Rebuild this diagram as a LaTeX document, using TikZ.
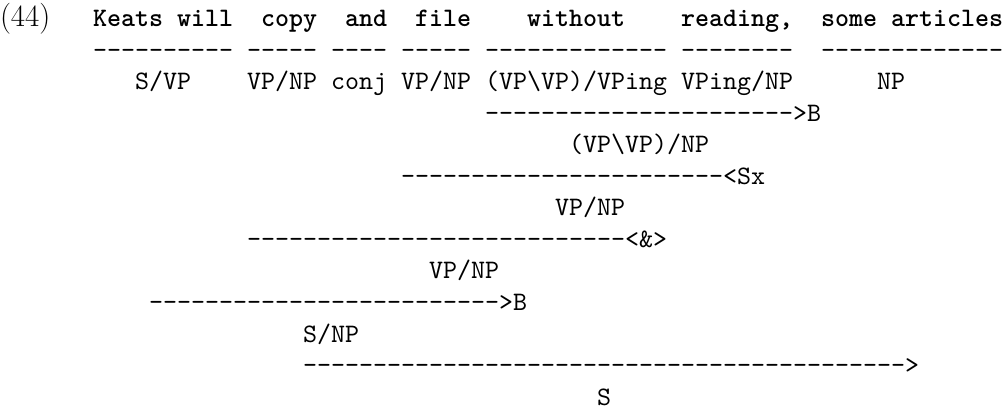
\documentclass[tikz,border=0pt]{standalone}
\usepackage{fontspec}
\setmonofont{lmmono10-regular.otf}[BoldFont=lmmonolt10-bold.otf]
\begin{document}
\begin{tikzpicture}[x=1pt,y=-1pt,
  every node/.style={inner sep=0pt,outer sep=0pt,anchor=base west},
  cat/.style={font=\fontsize{26.67}{30}\selectfont\ttfamily},
  word/.style={font=\fontsize{26.67}{30}\selectfont\ttfamily\bfseries},
  num/.style={font=\fontsize{31}{34}\selectfont\rmfamily}]
\useasboundingbox (0,0) rectangle (1007,414);
% example number
\node[num] (ex) at (0,27) {(44)};
% row 1: words
\node[word] (w1) at ({93+14*0},27) {Keats will};
\node[word] (w2) at ({93+14*12},27) {copy};
\node[word] (w3) at ({93+14*18},27) {and};
\node[word] (w4) at ({93+14*23},27) {file};
\node[word] (w5) at ({93+14*31},27) {without};
\node[word] (w6) at ({93+14*42},27) {reading,};
\node[word] (w7) at ({93+14*52},27) {some articles};
% row 2: lexical lines
\node[cat] (d1) at ({93+14*0},58.5) {----------};
\node[cat] (d2) at ({93+14*11},58.5) {-----};
\node[cat] (d3) at ({93+14*17},58.5) {----};
\node[cat] (d4) at ({93+14*22},58.5) {-----};
\node[cat] (d5) at ({93+14*28},58.5) {-------------};
\node[cat] (d6) at ({93+14*42},58.5) {--------};
\node[cat] (d7) at ({93+14*52},58.5) {-------------};
% row 3: categories
\node[cat] (c1) at ({93+14*3},90) {S/VP};
\node[cat] (c2) at ({93+14*11},90) {VP/NP};
\node[cat] (c3) at ({93+14*17},90) {conj};
\node[cat] (c4) at ({93+14*22},90) {VP/NP};
\node[cat] (c5) at ({93+14*28},90) {(VP\textbackslash VP)/VPing};
\node[cat] (c6) at ({93+14*42},90) {VPing/NP};
\node[cat] (c7) at ({93+14*56},90) {NP};
% derivation
\node[cat] (l4) at ({93+14*28},121.5) {---------------------->B};
\node[cat] (r5) at ({93+14*34},153) {(VP\textbackslash VP)/NP};
\node[cat] (l6) at ({93+14*22},184.5) {-----------------------<Sx};
\node[cat] (r7) at ({93+14*33},216) {VP/NP};
\node[cat] (l8) at ({93+14*11},247.5) {---------------------------<\&>};
\node[cat] (r9) at ({93+14*24},279) {VP/NP};
\node[cat] (l10) at ({93+14*4},310.5) {------------------------->B};
\node[cat] (r11) at ({93+14*15},342) {S/NP};
\node[cat] (l12) at ({93+14*15},373.5) {------------------------------------------->};
\node[cat] (r13) at ({93+14*36},405) {S};
\end{tikzpicture}
\end{document}
